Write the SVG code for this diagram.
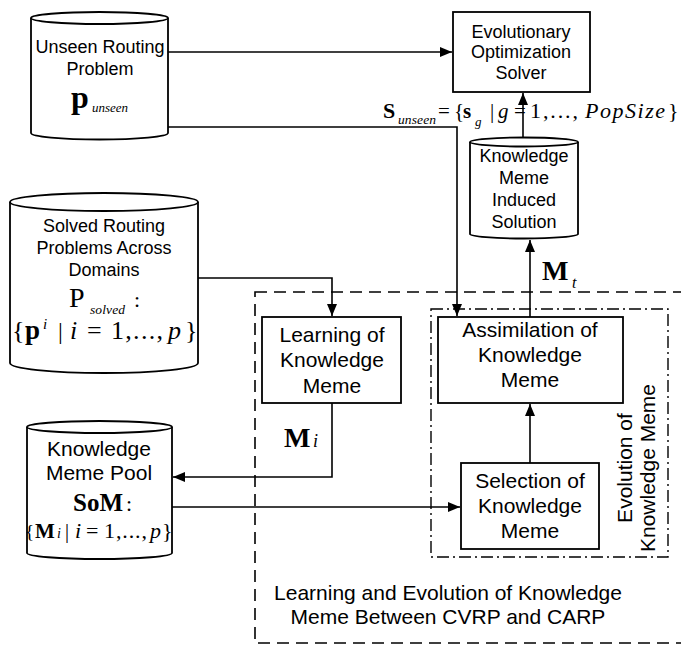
<svg xmlns="http://www.w3.org/2000/svg" width="681" height="646" viewBox="0 0 681 646">
<defs>
<marker id="ah" markerWidth="12" markerHeight="10" refX="12" refY="5" orient="auto" markerUnits="userSpaceOnUse">
<path d="M0,0 L12,5 L0,10 Z" fill="#000"/>
</marker>
<style>
.lbl{font-family:"Liberation Sans",Arial,sans-serif;font-size:18px;fill:#000;text-anchor:middle}
.lbl21{font-family:"Liberation Sans",Arial,sans-serif;font-size:21px;fill:#000;text-anchor:middle}
.m{font-family:"Liberation Serif","Times New Roman",serif;fill:#000}
.b{font-weight:bold}
.i{font-style:italic}
.box{fill:#fff;stroke:#000;stroke-width:1.8}
.cyl{fill:#fff;stroke:#000;stroke-width:1.8}
.ln{fill:none;stroke:#000;stroke-width:1.6}
.arr{fill:none;stroke:#000;stroke-width:1.6;marker-end:url(#ah)}
</style>
</defs>
<rect width="681" height="646" fill="#fff"/>

<!-- containers -->
<g id="outer-group">
<rect x="255" y="292" width="440" height="351" fill="none" stroke="#000" stroke-width="1.6" stroke-dasharray="12,7"/>
<text class="lbl21" x="448" y="600">Learning and Evolution of Knowledge</text>
<text class="lbl21" x="448" y="624">Meme Between CVRP and CARP</text>
</g>
<g id="evolution-group">
<rect x="431" y="309" width="237" height="248" fill="none" stroke="#000" stroke-width="1.4" stroke-dasharray="12,4,2,4"/>
<text class="lbl21" transform="translate(632,468) rotate(-90)">Evolution of</text>
<text class="lbl21" transform="translate(655,468) rotate(-90)">Knowledge Meme</text>
</g>

<!-- connectors -->
<g id="connectors">
<path class="arr" d="M168,52 L452,52"/>
<path class="arr" d="M168,127 L457,127 L457,316"/>
<path class="arr" d="M523,137 L523,93"/>
<path class="arr" d="M530,317 L530,240"/>
<path class="arr" d="M198,278 L332,278 L332,316"/>
<path class="arr" d="M332,403 L332,477 L173,477"/>
<path class="arr" d="M172,507 L460,507"/>
<path class="arr" d="M530,463 L530,404"/>
</g>

<g id="unseen">
<path class="cyl" d="M31,18 L31,133 A68.5,6.5 0 0 0 168,133 L168,18"/>
<ellipse class="cyl" cx="99.5" cy="18" rx="68.5" ry="6"/>
<text class="lbl" x="100" y="53">Unseen Routing</text>
<text class="lbl" x="100" y="75">Problem</text>
<text class="m b" x="71" y="108" font-size="32">p</text>
<text class="m i" x="92" y="112" font-size="13">unseen</text>
</g>

<g id="solver">
<rect class="box" x="453" y="12" width="137" height="80"/>
<text class="lbl" x="521" y="38">Evolutionary</text>
<text class="lbl" x="521" y="58">Optimization</text>
<text class="lbl" x="521" y="79">Solver</text>
</g>

<g id="s-unseen-label">
<text class="m b" x="383" y="118" font-size="22">S</text>
<text class="m i" x="398" y="124" font-size="13.5" textLength="38">unseen</text>
<text class="m" x="438" y="118" font-size="21">=</text>
<text class="m" x="454" y="118" font-size="21">{</text>
<text class="m b" x="463" y="118" font-size="21">s</text>
<text class="m i" x="475" y="126" font-size="13">g</text>
<text class="m" x="490" y="118" font-size="21">|</text>
<text class="m i" x="498" y="118" font-size="21">g</text>
<text class="m" x="514" y="118" font-size="21">=</text>
<text class="m" x="530" y="118" font-size="22" textLength="48">1,...,</text>
<text class="m i" x="585" y="118" font-size="22" textLength="80">PopSize</text>
<text class="m" x="668" y="118" font-size="22">}</text>
</g>

<g id="induced">
<path class="cyl" d="M470,142 L470,234 A54,4.5 0 0 0 578,234 L578,142"/>
<ellipse class="cyl" cx="524" cy="142" rx="54" ry="4.5"/>
<text class="lbl" x="524" y="162">Knowledge</text>
<text class="lbl" x="524" y="184">Meme</text>
<text class="lbl" x="524" y="206">Induced</text>
<text class="lbl" x="524" y="228">Solution</text>
</g>

<g id="m-t-label">
<text class="m b" x="542" y="280" font-size="28">M</text>
<text class="m i" x="572" y="288" font-size="16">t</text>
</g>

<g id="solved">
<path class="cyl" d="M10,202 L10,363 A94,10 0 0 0 198,363 L198,202"/>
<ellipse class="cyl" cx="104" cy="202" rx="94" ry="9"/>
<text class="lbl" x="104" y="232">Solved Routing</text>
<text class="lbl" x="104" y="254">Problems Across</text>
<text class="lbl" x="104" y="276">Domains</text>
<text class="m" x="69" y="307" font-size="28">P</text>
<text class="m i" x="90" y="314" font-size="13.5" textLength="35">solved</text>
<text class="m" x="134" y="307" font-size="22">:</text>
<text class="m" x="12" y="339" font-size="26">{</text>
<text class="m b" x="25" y="339" font-size="27">p</text>
<text class="m i" x="43" y="329" font-size="15">i</text>
<text class="m" x="58" y="339" font-size="24">|</text>
<text class="m i" x="70" y="339" font-size="26">i</text>
<text class="m" x="87" y="339" font-size="26">=</text>
<text class="m" x="111" y="339" font-size="26" textLength="52">1,...,</text>
<text class="m i" x="168" y="339" font-size="26">p</text>
<text class="m" x="185" y="339" font-size="26">}</text>
</g>

<g id="learning">
<rect class="box" x="262" y="317" width="139" height="86"/>
<text class="lbl21" x="332" y="342">Learning of</text>
<text class="lbl21" x="332" y="367">Knowledge</text>
<text class="lbl21" x="332" y="393">Meme</text>
</g>

<g id="m-i-label">
<text class="m b" x="284" y="447" font-size="28">M</text>
<text class="m i" x="313" y="447" font-size="18">i</text>
</g>

<g id="assimilation">
<rect class="box" x="438" y="317" width="185" height="86"/>
<text class="lbl21" x="530" y="337">Assimilation of</text>
<text class="lbl21" x="530" y="362">Knowledge</text>
<text class="lbl21" x="530" y="387">Meme</text>
</g>

<g id="selection">
<rect class="box" x="461" y="463" width="138" height="86"/>
<text class="lbl21" x="530" y="488">Selection of</text>
<text class="lbl21" x="530" y="513">Knowledge</text>
<text class="lbl21" x="530" y="538">Meme</text>
</g>

<g id="pool">
<path class="cyl" d="M27,427 L27,553 A72.5,6 0 0 0 172,553 L172,427"/>
<ellipse class="cyl" cx="99.5" cy="427" rx="72.5" ry="6"/>
<text class="lbl21" x="99" y="456">Knowledge</text>
<text class="lbl21" x="99" y="480">Meme Pool</text>
<text class="m b" x="73" y="511" font-size="25">SoM</text>
<text class="m" x="126" y="511" font-size="22">:</text>
<text class="m" x="25" y="538" font-size="19">{</text>
<text class="m b" x="35" y="538" font-size="21">M</text>
<text class="m i" x="57" y="538" font-size="14">i</text>
<text class="m" x="65" y="538" font-size="20">|</text>
<text class="m i" x="75" y="538" font-size="22">i</text>
<text class="m" x="86" y="538" font-size="22">=</text>
<text class="m" x="104" y="538" font-size="22" textLength="43">1,...,</text>
<text class="m i" x="150" y="538" font-size="22">p</text>
<text class="m" x="162" y="538" font-size="22">}</text>
</g>
</svg>
